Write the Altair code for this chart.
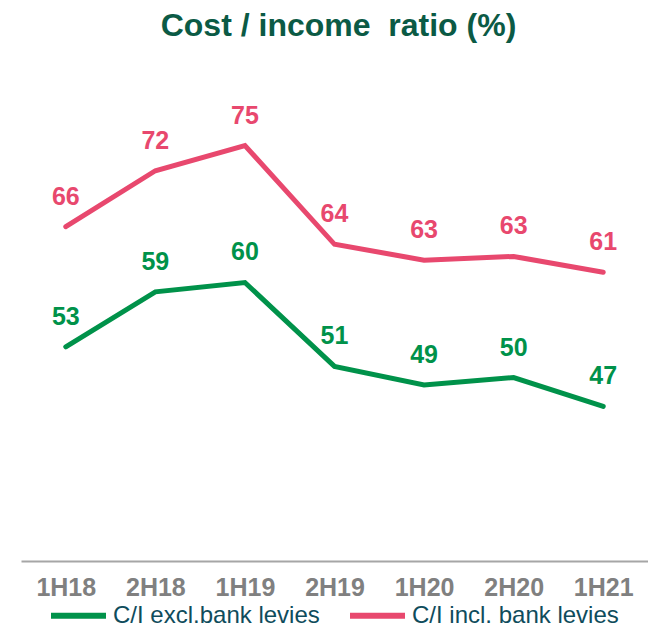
import altair as alt
import pandas as pd

periods = ["1H18", "2H18", "1H19", "2H19", "1H20", "2H20", "1H21"]
excl_levies = [53.4, 59.3, 60.3, 51.3, 49.3, 50.1, 47.0]
incl_levies = [66.3, 72.3, 75.0, 64.4, 62.7, 63.1, 61.4]
series_names = ["C/I excl.bank levies", "C/I incl. bank levies"]
series_colors = ["#00924A", "#E8486E"]

rows = []
for p, v in zip(periods, excl_levies):
    rows.append({"period": p, "value": v, "series": series_names[0]})
for p, v in zip(periods, incl_levies):
    rows.append({"period": p, "value": v, "series": series_names[1]})
df = pd.DataFrame(rows)

FONT = "Liberation Sans"

x = alt.X(
    "period:N",
    sort=periods,
    scale=alt.Scale(type="point", padding=0.5),
    axis=alt.Axis(
        title=None,
        ticks=False,
        grid=False,
        labelAngle=0,
        labelFont=FONT,
        labelFontSize=25,
        labelFontWeight="bold",
        labelColor="#808080",
        labelPadding=14,
        domainColor="#A6A6A6",
        domainWidth=2,
    ),
)
y = alt.Y(
    "value:Q",
    scale=alt.Scale(domain=[30.4, 80], nice=False, zero=False),
    axis=None,
)
color = alt.Color(
    "series:N",
    scale=alt.Scale(domain=series_names, range=series_colors),
    legend=alt.Legend(
        title=None,
        orient="none",
        direction="horizontal",
        legendX=27,
        legendY=486,
        symbolType="stroke",
        symbolSize=3025,
        symbolStrokeWidth=6,
        labelFont=FONT,
        labelFontSize=24,
        labelColor="#0F4C5C",
        labelLimit=400,
        labelOffset=4,
        columnPadding=18,
        padding=0,
    ),
)

lines = alt.Chart(df).mark_line(strokeWidth=5, strokeCap="round", strokeJoin="miter").encode(
    x=x, y=y, color=color
)
labels = alt.Chart(df).mark_text(
    font=FONT, fontSize=25, fontWeight="bold", baseline="alphabetic", dy=-22
).encode(
    x=x,
    y=y,
    text=alt.Text("value:Q", format=".0f"),
    color=alt.Color("series:N", scale=alt.Scale(domain=series_names, range=series_colors), legend=None),
)

chart = (
    alt.layer(lines, labels)
    .properties(
        width=627,
        height=462,
        autosize=alt.AutoSizeParams(type="none"),
        padding={"left": 13, "top": 91, "right": 0, "bottom": 66},
        title=alt.TitleParams(
            "Cost / income\u00a0 ratio (%)",
            font=FONT,
            fontSize=32,
            fontWeight="bold",
            color="#0B5A45",
            anchor="middle",
            baseline="alphabetic",
            offset=31,
            dx=4,
        ),
    )
    .configure(background="white")
    .configure_view(strokeWidth=0)
)

chart.save("out.html", embed_options={"renderer": "svg", "actions": False})
